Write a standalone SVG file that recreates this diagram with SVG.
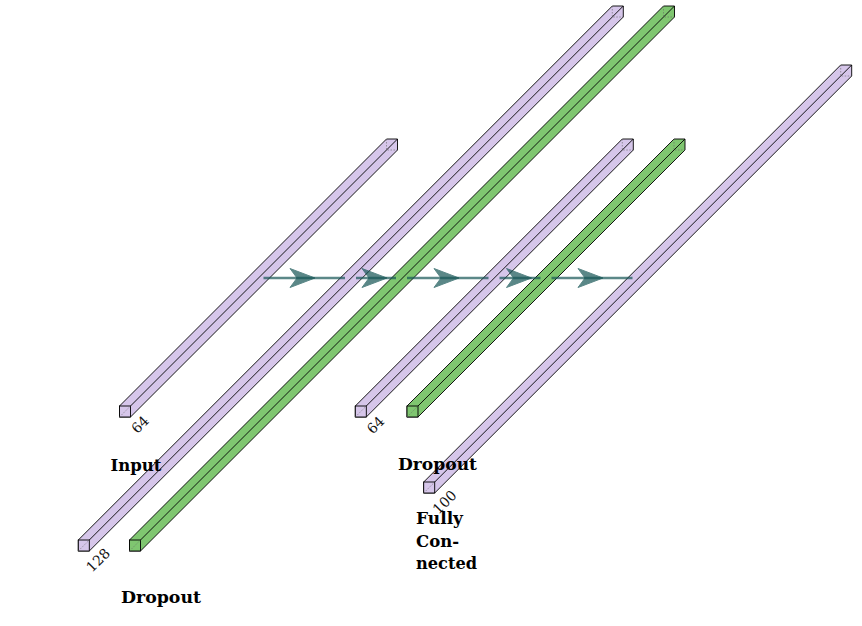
<svg xmlns="http://www.w3.org/2000/svg" xmlns:xlink="http://www.w3.org/1999/xlink" width="862" height="626" viewBox="0 0 862 626">
<style>
.sil{stroke:#000;stroke-width:0.9;stroke-linejoin:miter}
.edge{fill:none;stroke:#000;stroke-width:0.9}
.hid{fill:none;stroke:#666;stroke-width:0.6;stroke-dasharray:1.5 1.5}
.purple{fill:#d6c6ea}
.green{fill:#7fc670}
.conn{stroke:#155555;stroke-width:2.6;opacity:0.7;fill:none}
.head{fill:#155555;stroke:#155555;stroke-width:1;opacity:0.7}
.lbl{font-family:"DejaVu Serif","Liberation Serif",serif;font-weight:bold;font-size:17px;fill:#000}
.num{font-family:"DejaVu Serif","Liberation Serif",serif;font-size:14px;fill:#111}
</style>
<defs>
<path id="ah" d="M-12.5,-9.5 L12.5,0 L-12.5,9.5 L-5.5,0 Z"/>
</defs>
<rect width="862" height="626" fill="#fff"/>

<g id="input" transform="translate(119.5,406)">
<path class="sil purple" d="M0,11V0L267,-267H278V-256L11,11Z"/>
<path class="edge" d="M11,0L278,-267"/>
<rect class="sil purple" x="0" y="0" width="11" height="11"/>
<path class="hid" d="M0,11L11,0M267,-267V-256H278"/>
</g>

<g id="fc128" transform="translate(78.3,540)">
<path class="sil purple" d="M0,11V0L534,-534H545V-523L11,11Z"/>
<path class="edge" d="M11,0L545,-534"/>
<rect class="sil purple" x="0" y="0" width="11" height="11"/>
<path class="hid" d="M0,11L11,0M534,-534V-523H545"/>
</g>

<g id="dropout128" transform="translate(129.5,540)">
<path class="sil green" d="M0,11V0L534,-534H545V-523L11,11Z"/>
<path class="edge" d="M11,0L545,-534"/>
<rect class="sil green" x="0" y="0" width="11" height="11"/>
<path class="hid" d="M0,11L11,0M534,-534V-523H545"/>
</g>

<g id="fc64" transform="translate(355.3,406)">
<path class="sil purple" d="M0,11V0L267,-267H278V-256L11,11Z"/>
<path class="edge" d="M11,0L278,-267"/>
<rect class="sil purple" x="0" y="0" width="11" height="11"/>
<path class="hid" d="M0,11L11,0M267,-267V-256H278"/>
</g>

<g id="dropout64" transform="translate(407,406)">
<path class="sil green" d="M0,11V0L267,-267H278V-256L11,11Z"/>
<path class="edge" d="M11,0L278,-267"/>
<rect class="sil green" x="0" y="0" width="11" height="11"/>
<path class="hid" d="M0,11L11,0M267,-267V-256H278"/>
</g>

<g id="fc100" transform="translate(423.7,482)">
<path class="sil purple" d="M0,11V0L417,-417H428V-406L11,11Z"/>
<path class="edge" d="M11,0L428,-417"/>
<rect class="sil purple" x="0" y="0" width="11" height="11"/>
<path class="hid" d="M0,11L11,0M417,-417V-406H428"/>
</g>

<g id="connectors">
<path class="conn" d="M263.5,278H345"/>
<use xlink:href="#ah" class="head" x="302.5" y="278"/>
<path class="conn" d="M356,278H396"/>
<use xlink:href="#ah" class="head" x="374.5" y="278"/>
<path class="conn" d="M407,278H488.5"/>
<use xlink:href="#ah" class="head" x="446.5" y="278"/>
<path class="conn" d="M499.5,278H540.5"/>
<use xlink:href="#ah" class="head" x="519" y="278"/>
<path class="conn" d="M551.5,278H632.5"/>
<use xlink:href="#ah" class="head" x="590.5" y="278"/>
</g>

<g id="labels">
<text class="num" text-anchor="middle" dominant-baseline="central" transform="translate(140,424.5) rotate(-45)">64</text>
<text class="num" text-anchor="middle" dominant-baseline="central" transform="translate(98,560) rotate(-45)">128</text>
<text class="num" text-anchor="middle" dominant-baseline="central" transform="translate(375.5,425) rotate(-45)">64</text>
<text class="num" text-anchor="middle" dominant-baseline="central" transform="translate(444.5,502) rotate(-45)">100</text>
<text class="lbl" x="110.5" y="470.5" textLength="51" lengthAdjust="spacingAndGlyphs">Input</text>
<text class="lbl" x="121" y="602.5" textLength="80" lengthAdjust="spacingAndGlyphs">Dropout</text>
<text class="lbl" x="398" y="470" textLength="79" lengthAdjust="spacingAndGlyphs">Dropout</text>
<text class="lbl" x="416" y="524" textLength="47" lengthAdjust="spacingAndGlyphs">Fully</text>
<text class="lbl" x="416" y="546.5" textLength="43" lengthAdjust="spacingAndGlyphs">Con-</text>
<text class="lbl" x="416" y="569" textLength="61" lengthAdjust="spacingAndGlyphs">nected</text>
</g>
</svg>
